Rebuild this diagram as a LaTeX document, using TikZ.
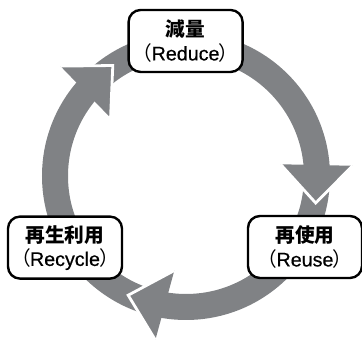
\documentclass[tikz,border=0pt]{standalone}
\usepackage{fontspec}
\setmainfont{Liberation Sans}[FakeBold=0.5]
\newfontfamily\jp{Noto Sans CJK JP}
\usepackage{xcolor}
\usetikzlibrary{calc}
\definecolor{ringgray}{RGB}{128,130,133}

\begin{document}
\begin{tikzpicture}[
  stage/.style={draw=black, line width=1.7pt, fill=white, rounded corners=0.3cm,
    minimum width=2.85cm, minimum height=1.55cm, align=center, inner sep=0pt,
    font=\fontsize{14}{17}\selectfont}]
\useasboundingbox (0,0) rectangle (9.05,8.5);
\coordinate (c) at (4.65,4.1);
\draw[ringgray, line width=0.65cm] (c) circle (3.275);
% arrow heads on the ring
\foreach \a in {4.8,-99.3,140.1}{
  \pgfmathsetmacro\d{\a-96}
  \coordinate (m) at ($(c)+(\a:3.275)$);
  \coordinate (l) at ($(m)+(\d+90:0.9)$);
  \coordinate (r) at ($(m)+(\d-90:0.9)$);
  \coordinate (t) at ($(m)+(\d:0.95)$);
  \fill[ringgray] (l) -- (t) -- (r) -- cycle;
  \draw[white, line width=0.07cm] (l) -- (t) -- (r);
}
\node[stage] (reduce) at (4.64,7.475) {{\jp\bfseries 減量}\\{\jp （}\kern-0.5pt Reduce\kern-0.5pt{\jp ）}};
\node[stage] (reuse) at (7.625,2.325) {{\jp\bfseries 再使用}\\{\jp （}\kern-0.5pt Reuse\kern-0.5pt{\jp ）}};
\node[stage] (recycle) at (1.625,2.31) {{\jp\bfseries 再生利用}\\{\jp （}\kern-0.5pt Recycle\kern-0.5pt{\jp ）}};
\end{tikzpicture}
\end{document}
